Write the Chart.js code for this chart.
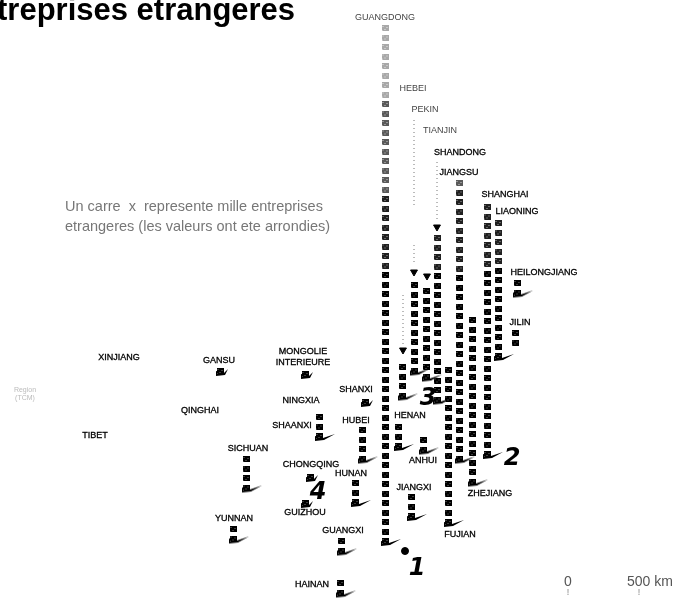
<!DOCTYPE html>
<html>
<head>
<meta charset="utf-8">
<style>
  html, body { margin: 0; padding: 0; background: #fff; }
  canvas { display: block; }
</style>
<script src="https://cdn.jsdelivr.net/npm/chart.js@4"></script>
</head>
<body>
<canvas id="chart" width="676" height="603"></canvas>
<script>
// Provinces with at least one square
const provinces = ['GUANGDONG', 'HEBEI', 'PEKIN', 'TIANJIN', 'SHANDONG', 'JIANGSU', 'SHANGHAI', 'LIAONING',
  'HEILONGJIANG', 'JILIN', 'ZHEJIANG', 'FUJIAN', 'HENAN', 'ANHUI', 'JIANGXI', 'SHANXI', 'HUBEI', 'HUNAN',
  'GUANGXI', 'HAINAN', 'GUIZHOU', 'CHONGQING', 'YUNNAN', 'SICHUAN', 'SHAANXI', 'MONGOLIE', 'GANSU'];
const thousands = [55, 4, 10, 10, 18, 30, 27, 15, 2, 2, 18, 17, 3, 2, 3, 1, 4, 3, 2, 2, 1, 1, 2, 4, 3, 1, 1];
const columnX = [385, 402, 414, 426, 437, 459, 487, 498, 517, 515, 472, 448, 398, 423, 411, 365, 362, 355,
  341, 340, 305, 310, 233, 246, 319, 305, 220];
const columnTop = [28, 367, 285, 291, 238, 183, 207, 223, 283, 333, 320, 370, 427, 440, 497, 402, 430, 483,
  541, 583, 503, 477, 529, 459, 417, 374, 371];

// Text on the map
const labelNames = ['GUANGDONG', 'HEBEI', 'PEKIN', 'TIANJIN', 'SHANDONG', 'JIANGSU', 'SHANGHAI', 'LIAONING',
  'HEILONGJIANG', 'JILIN', 'ZHEJIANG', 'FUJIAN', 'HENAN', 'ANHUI', 'JIANGXI', 'SHANXI', 'HUBEI', 'HUNAN',
  'GUANGXI', 'HAINAN', 'GUIZHOU', 'CHONGQING', 'YUNNAN', 'SICHUAN', 'SHAANXI', 'MONGOLIE', 'INTERIEURE',
  'GANSU', 'NINGXIA', 'QINGHAI', 'XINJIANG', 'TIBET'];
const labelX = [385, 413, 425, 440, 460, 459, 505, 517, 544, 520, 490, 460, 410, 423, 414, 356, 356, 351,
  343, 312, 305, 311, 234, 248, 292, 303, 303, 219, 301, 200, 119, 95];
const labelY = [18, 89, 110, 131, 153, 173, 195, 212, 273, 323, 494, 535, 416, 461, 488, 390, 421, 474,
  531, 585, 513, 465, 519, 449, 426, 352, 363, 361, 401, 411, 358, 436];

// Dotted leaders and their arrow heads
const leaderX = [403, 414, 414, 437];
const leaderFrom = [295, 120, 245, 162];
const leaderTo = [345, 205, 265, 220];
const arrowX = [403, 414, 427, 437];
const arrowY = [350, 272, 276, 227];

const handNotes = ['1', '2', '3', '4'];
const handX = [417, 512, 428, 318];
const handY = [569, 459, 399, 493];

const scaleStops = ['0', '500 km'];
const scaleX = [568, 650];
const scaleTickX = [568, 639];

function squareImage(color, fleck) {
  const c = document.createElement('canvas');
  c.width = 7; c.height = 6;
  const g = c.getContext('2d');
  g.fillStyle = color;
  g.fillRect(0, 0, 7, 6);
  g.fillStyle = fleck;
  g.fillRect(1, 1, 1, 1);
  g.fillRect(5, 2, 1, 1);
  g.fillRect(3, 4, 1, 1);
  g.fillRect(0, 5, 1, 1);
  return c;
}

function tailImage(len) {
  // drawn right of centre so the tail starts at the square
  const c = document.createElement('canvas');
  c.width = len * 2; c.height = 16;
  const g = c.getContext('2d');
  const mid = len;
  g.fillStyle = '#000';
  g.beginPath();
  g.moveTo(mid - 4, 8);
  g.lineTo(mid + 4, 10);
  g.lineTo(mid + len, 6);
  g.lineTo(mid + 5, 12);
  g.lineTo(mid - 4, 13);
  g.closePath();
  g.fill();
  return c;
}

const squareFaint = squareImage('#a8a8a8', '#e8e8e8');
const squareMid = squareImage('#5a5a5a', '#d0d0d0');
const squareDark = squareImage('#202020', '#aaaaaa');
const squareBlack = squareImage('#000000', '#777777');
const tailShort = tailImage(8);
const tailLong = tailImage(16);

function squareShade(y) {
  if (y < 100) return squareFaint;
  if (y < 190) return squareMid;
  if (y < 270) return squareDark;
  return squareBlack;
}

const squares = [];
const tails = [];
provinces.forEach((name, i) => {
  for (let k = 0; k < thousands[i]; k++) {
    squares.push({ x: columnX[i], y: columnTop[i] + k * 9.5 });
  }
  if (name !== 'JILIN') {
    tails.push({ x: columnX[i], y: columnTop[i] + (thousands[i] - 1) * 9.5, n: thousands[i] });
  }
});

const leaders = leaderX.map((x, i) => ({
  type: 'line',
  data: [{ x, y: leaderFrom[i] }, { x, y: leaderTo[i] }],
  borderColor: '#777',
  borderWidth: 1,
  borderDash: [1, 3],
  pointRadius: 0,
}));

const mapText = {
  id: 'mapText',
  afterDatasetsDraw(chart) {
    const { ctx, scales: { x, y } } = chart;
    const put = (str, px, py, font, color, align) => {
      ctx.font = font;
      ctx.fillStyle = color;
      ctx.textAlign = align || 'center';
      ctx.textBaseline = 'middle';
      ctx.fillText(str, x.getPixelForValue(px), y.getPixelForValue(py));
    };
    ctx.save();
    ctx.strokeStyle = '#000';
    ctx.lineWidth = 0.3;
    labelNames.forEach((name, i) => {
      const faint = name === 'GUANGDONG' || name === 'HEBEI' || name === 'PEKIN' || name === 'TIANJIN';
      put(name, labelX[i], labelY[i], '9px "Liberation Sans"', faint ? '#444' : '#000');
      if (!faint) ctx.strokeText(name, x.getPixelForValue(labelX[i]), y.getPixelForValue(labelY[i]));
    });
    put('treprises etrangeres', -3, 11, 'bold 31px "Liberation Sans"', '#000', 'left');
    put('Un carre  x  represente mille entreprises', 65, 207, '14.5px "Liberation Sans"', '#777', 'left');
    put('etrangeres (les valeurs ont ete arrondies)', 65, 227, '14.5px "Liberation Sans"', '#777', 'left');
    put('Region', 25, 390, '7px "Liberation Sans"', '#bbb');
    put('(TCM)', 25, 398, '7px "Liberation Sans"', '#bbb');
    scaleStops.forEach((s, i) => {
      put(s, scaleX[i], 582, '14px "Liberation Sans"', '#555');
      put('!', scaleTickX[i], 593, '9px "Liberation Sans"', '#888');
    });
    handNotes.forEach((s, i) => {
      put(s, handX[i], handY[i], 'italic bold 24px "DejaVu Sans"', '#000');
    });
    ctx.restore();
  },
};

new Chart(document.getElementById('chart'), {
  type: 'scatter',
  data: {
    datasets: [
      ...leaders,
      {
        data: squares,
        pointStyle: ctx => squareShade(ctx.raw.y),
        pointRadius: 3,
      },
      {
        data: tails,
        pointStyle: ctx => (ctx.raw.n === 1 ? tailShort : tailLong),
        pointRadius: 5,
      },
      {
        data: arrowX.map((x, i) => ({ x, y: arrowY[i] })),
        pointStyle: 'triangle',
        rotation: 180,
        pointRadius: 4,
        backgroundColor: '#000',
        borderColor: '#000',
      },
      {
        // pen dot next to the hand written 1
        data: [{ x: 405, y: 551 }],
        pointRadius: 3.5,
        backgroundColor: '#000',
        borderColor: '#000',
      },
    ],
  },
  options: {
    responsive: false,
    animation: false,
    layout: { padding: 0, autoPadding: false },
    plugins: { legend: { display: false }, tooltip: { enabled: false } },
    scales: {
      x: { type: 'linear', min: 0, max: 676, display: false },
      y: { type: 'linear', min: 0, max: 603, reverse: true, display: false },
    },
  },
  plugins: [mapText],
});
</script>
</body>
</html>
